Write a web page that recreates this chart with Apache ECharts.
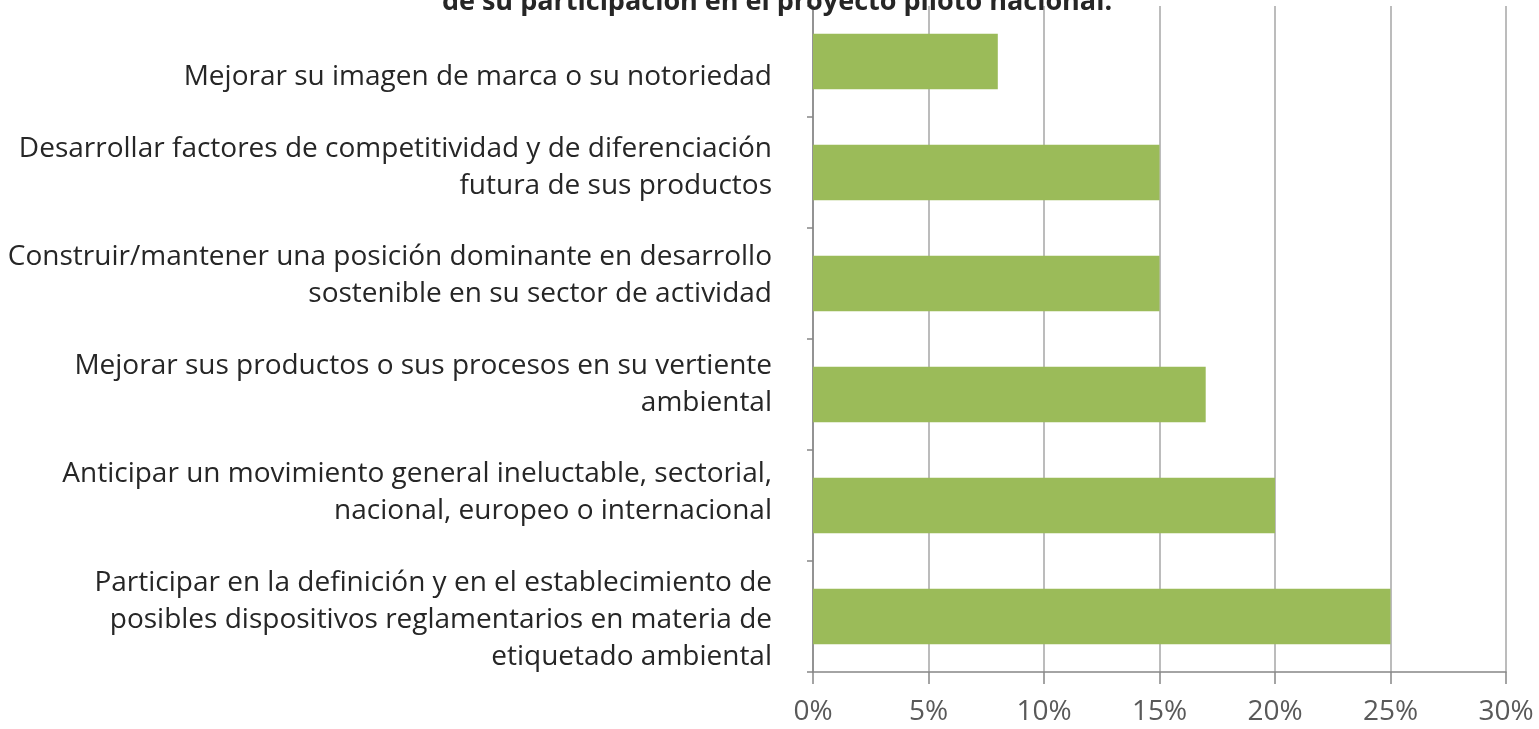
<!DOCTYPE html>
<html>
<head>
<meta charset="utf-8">
<script src="https://cdn.jsdelivr.net/npm/echarts@6/dist/echarts.min.js"></script>
<style>
  html, body { margin: 0; padding: 0; background: #fff; }
  #chart { width: 1539px; height: 729px; }
</style>
</head>
<body>
<div id="chart"></div>
<script>
const titleText = 'de su participación en el proyecto piloto nacional:';

// top-to-bottom order as shown
const categories = [
  'Mejorar su imagen de marca o su notoriedad',
  'Desarrollar factores de competitividad y de diferenciación\nfutura de sus productos',
  'Construir/mantener una posición dominante en desarrollo\nsostenible en su sector de actividad',
  'Mejorar sus productos o sus procesos en su vertiente\nambiental',
  'Anticipar un movimiento general ineluctable, sectorial,\nnacional, europeo o internacional',
  'Participar en la definición y en el establecimiento de\nposibles dispositivos reglamentarios en materia de\netiquetado ambiental'
];
const values = [8, 15, 15, 17, 20, 25];
const xTicks = [0, 5, 10, 15, 20, 25, 30];

// the Excel labels don't sit exactly on the bar centres; nudge them (px, + = down)
const labelNudge = [16, -5, -8, -10, -13, 4];

const chart = echarts.init(document.getElementById('chart'));
const font = 'Open Sans';

// a blank spacer line above/below the text shifts the centred label
const rich = {
  t: { fontFamily: font, fontSize: 28, lineHeight: 37, color: '#262626', align: 'right' }
};
labelNudge.forEach((d, i) => {
  rich['g' + i] = { fontSize: 1, lineHeight: Math.abs(d) * 2, height: Math.abs(d) * 2 };
});

const labelFormatter = (value, index) => {
  const d = labelNudge[index];
  const text = value.split('\n').map((l) => `{t|${l}}`).join('\n');
  const spacer = `{g${index}| }`;
  return d > 0 ? spacer + '\n' + text : text + '\n' + spacer;
};

chart.setOption({
  backgroundColor: '#ffffff',
  animation: false,
  title: {
    text: titleText,
    left: 772,
    textAlign: 'center',
    top: -16,
    textStyle: { fontFamily: font, fontWeight: 'bold', fontSize: 27, color: '#262626' }
  },
  grid: { left: 813, right: 33, top: 6, bottom: 57, containLabel: false },
  xAxis: {
    type: 'value',
    min: xTicks[0],
    max: xTicks[xTicks.length - 1],
    interval: 5,
    axisLine: { show: true, lineStyle: { color: '#868686', width: 1.5 } },
    axisTick: { show: true, length: 12, lineStyle: { color: '#868686', width: 1.5 } },
    axisLabel: {
      formatter: '{value}%',
      margin: 26,
      fontFamily: font,
      fontSize: 28,
      color: '#595959'
    },
    splitLine: { show: true, lineStyle: { color: '#a6a6a6', width: 1.5 } }
  },
  yAxis: {
    type: 'category',
    inverse: true,
    data: categories,
    axisLine: { show: true, lineStyle: { color: '#868686', width: 1.5 } },
    axisTick: { show: true, length: 6, lineStyle: { color: '#868686', width: 1.5 } },
    axisLabel: {
      margin: 41,
      align: 'right',
      formatter: labelFormatter,
      rich: rich
    }
  },
  series: [{
    type: 'bar',
    data: values,
    barWidth: '50%',
    itemStyle: { color: '#9bbb59' }
  }]
});
</script>
</body>
</html>
